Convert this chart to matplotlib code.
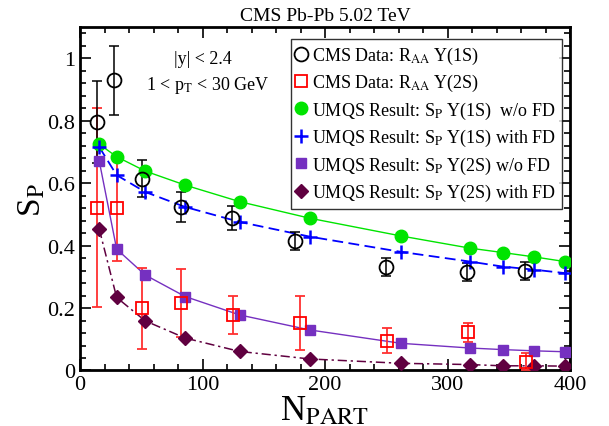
import numpy as np
import matplotlib.pyplot as plt
from matplotlib.ticker import MultipleLocator

plt.rcParams['font.family'] = ['Liberation Serif', 'DejaVu Serif']
plt.rcParams['mathtext.fontset'] = 'stix'

# CMS data R_AA
cms1_x = [14.1, 27.9, 51.0, 82.5, 124.1, 175.2, 249.8, 315.8, 363.3]
cms1_y = [0.796, 0.930, 0.615, 0.523, 0.488, 0.415, 0.332, 0.317, 0.319]
cms1_err = [0.13, 0.11, 0.06, 0.048, 0.038, 0.029, 0.030, 0.029, 0.029]

cms2_x = [14.1, 29.9, 50.7, 82.8, 124.9, 179.2, 250.7, 316.6, 363.9]
cms2_y = [0.522, 0.522, 0.199, 0.216, 0.178, 0.152, 0.095, 0.122, 0.028]
cms2_err = [0.32, 0.17, 0.13, 0.11, 0.06, 0.087, 0.040, 0.030, 0.028]

# UMQS results
npart = [15.7, 29.9, 53.2, 85.8, 130.3, 187.4, 262.1, 318.3, 344.9, 370.7, 395.9]
sp1_nofd = [0.725, 0.685, 0.639, 0.594, 0.541, 0.488, 0.431, 0.392, 0.378, 0.364, 0.349]
sp1_fd = [0.716, 0.626, 0.572, 0.524, 0.476, 0.429, 0.380, 0.349, 0.333, 0.323, 0.312]
sp2_nofd = [0.671, 0.389, 0.306, 0.237, 0.178, 0.130, 0.087, 0.072, 0.067, 0.063, 0.060]
sp2_fd = [0.453, 0.234, 0.159, 0.104, 0.061, 0.037, 0.023, 0.019, 0.015, 0.015, 0.014]

green = '#00e400'
purple = '#7530c0'
maroon = '#600040'

fig = plt.figure(figsize=(6.09, 4.27), dpi=100)
ax = fig.add_axes([0.1314, 0.130, 0.8046, 0.804])

# lines
ax.plot(npart, sp1_nofd, '-', color=green, lw=1.0)
ax.plot(npart, sp1_fd, '--', color='blue', lw=1.3, dashes=(6, 3))
ax.plot(npart, sp2_nofd, '-', color=purple, lw=1.0)
ax.plot(npart, sp2_fd, '-.', color=maroon, lw=1.1, dashes=(6, 2.5, 1.5, 2.5))

# data with error bars
ax.errorbar(cms2_x, cms2_y, yerr=cms2_err, fmt='none', ecolor='#ff3030',
            elinewidth=1.3, capsize=3.5, capthick=1.3, zorder=3)
ax.errorbar(cms1_x, cms1_y, yerr=cms1_err, fmt='none', ecolor='black',
            elinewidth=1.1, capsize=3.5, capthick=1.1, zorder=3)

h1, = ax.plot(cms1_x, cms1_y, 'o', ms=10, mfc='none', mec='black', mew=1.3, zorder=5,
              label=r'CMS Data: R$_{\rm AA}$ Υ(1S)')
h2, = ax.plot(cms2_x, cms2_y, 's', ms=8.5, mfc='none', mec='red', mew=1.3, zorder=5,
              label=r'CMS Data: R$_{\rm AA}$ Υ(2S)')
h3, = ax.plot(npart, sp1_nofd, 'o', ms=9, color=green, zorder=4,
              label=r'UMQS Result: S$_{\rm P}$ Υ(1S)  w/o FD')
h4, = ax.plot(npart, sp1_fd, '+', ms=10, mew=1.8, color='blue', zorder=4,
              label=r'UMQS Result: S$_{\rm P}$ Υ(1S) with FD')
h5, = ax.plot(npart, sp2_nofd, 's', ms=7.5, color=purple, zorder=4,
              label=r'UMQS Result: S$_{\rm P}$ Υ(2S) w/o FD')
h6, = ax.plot(npart, sp2_fd, 'D', ms=7, color=maroon, zorder=4,
              label=r'UMQS Result: S$_{\rm P}$ Υ(2S) with FD')

ax.set_xlim(0, 400)
ax.set_ylim(0, 1.1)
ax.xaxis.set_major_locator(MultipleLocator(100))
ax.xaxis.set_minor_locator(MultipleLocator(20))
ax.yaxis.set_minor_locator(MultipleLocator(0.04))
ax.set_yticks([0, 0.2, 0.4, 0.6, 0.8, 1.0])
ax.set_yticklabels(['0', '0.2', '0.4', '0.6', '0.8', '1'])
ax.tick_params(which='both', direction='in', top=True, right=True, labelsize=16, width=1.2)
ax.tick_params(which='major', length=8)
ax.tick_params(which='minor', length=4)
for s in ax.spines.values():
    s.set_linewidth(2)

ax.set_xlabel(r'N$_{\rm PART}$', fontsize=25, labelpad=0)
ax.set_ylabel(r'S$_{\rm P}$', fontsize=24, labelpad=0)
ax.set_title('CMS Pb-Pb 5.02 TeV', fontsize=14, pad=5)

ax.text(0.25, 0.895, '|y| < 2.4', transform=ax.transAxes, ha='center', fontsize=13)
ax.text(0.26, 0.82, r'1 < p$_{\rm T}$ < 30 GeV', transform=ax.transAxes, ha='center', fontsize=13)

leg = ax.legend(handles=[h1, h2, h3, h4, h5, h6], loc='upper right',
                bbox_to_anchor=(0.99, 0.975), fontsize=13, frameon=True, fancybox=False,
                edgecolor='black', handlelength=0.6, handletextpad=0.3,
                borderpad=0.3, labelspacing=0.35, borderaxespad=0.2)
leg.get_frame().set_linewidth(1.0)

fig.savefig('out.png', dpi=100)
